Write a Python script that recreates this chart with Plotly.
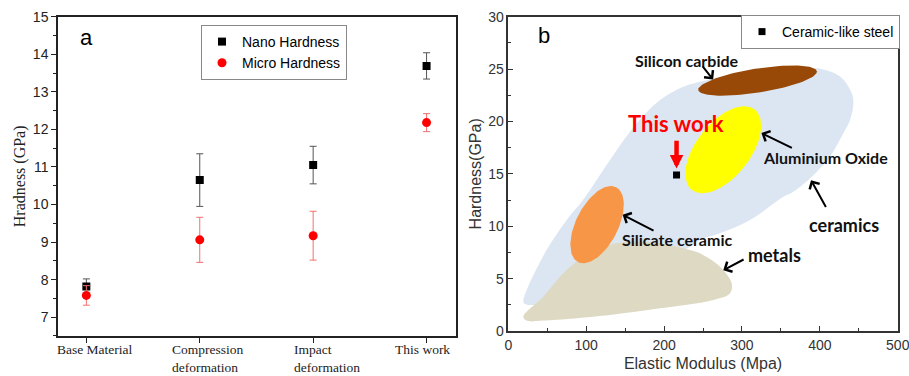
import numpy as np
import plotly.graph_objects as go

# ---------------- Panel a data ----------------
categories = ["Base Material", "Compression<br>deformation", "Impact<br>deformation", "This work"]
nano = [7.82, 10.65, 11.05, 13.69]
nano_err = [0.20, 0.70, 0.50, 0.35]
micro = [7.58, 9.06, 9.17, 12.18]
micro_err = [0.26, 0.60, 0.65, 0.24]

# ---------------- Panel b data ----------------
steel_E = [216]
steel_H = [14.9]

ceramics_E = [19.3, 44.5, 74.9, 95.9, 130.6, 164.8, 194.8, 224.7, 246.1, 301.8, 344.6, 396.0,
              425.9, 440.9, 443.1, 438.8, 430.2, 413.1, 400.3, 385.3, 366.0, 353.2, 310.4,
              271.8, 246.1, 233.3, 194.8, 130.6, 66.4, 36.4, 21.4]
ceramics_H = [2.80, 7.10, 10.59, 12.50, 16.32, 19.82, 22.05, 23.32, 23.80, 24.53, 24.91, 25.07,
              24.28, 22.69, 21.73, 20.14, 18.87, 16.64, 15.53, 14.41, 13.30, 12.82, 10.59,
              9.32, 8.69, 8.05, 6.46, 4.23, 2.80, 2.48, 2.58]

metals_E = [19.3, 44.9, 70.6, 96.3, 122.0, 156.3, 194.8, 233.3, 246.1, 271.8, 286.8, 284.7,
            263.3, 194.8, 130.6, 44.9, 23.5]
metals_H = [1.37, 3.28, 5.50, 7.10, 8.05, 8.53, 8.37, 7.73, 7.41, 6.14, 4.55, 3.60,
            2.96, 2.16, 1.53, 0.99, 0.99]

ellipse_names = ["Silicate ceramic", "Silicon carbide", "Aluminium Oxide"]
ellipse_cx = [114, 320, 276]
ellipse_cy = [10.15, 23.9, 17.3]
ellipse_a_px = [42, 60, 51]
ellipse_b_px = [21, 12, 27]
ellipse_angle = [63, 9, 52]
ellipse_colors = ["#f79646", "#984807", "#ffff00"]

labels_text = ["Silicon carbide", "Aluminium Oxide", "ceramics", "Silicate ceramic", "metals"]
labels_E = [230, 407.5, 431.5, 217, 341.6]
labels_H = [25.8, 16.6, 10.1, 8.75, 7.3]
labels_size = [16, 16, 18, 16, 18]
arrow_tail_E = [248, 366, 408.8, 188.4, 304]
arrow_tail_H = [25.4, 17.4, 11.7, 9.5, 6.9]
arrow_tip_E = [263, 325, 388.7, 146.8, 276]
arrow_tip_H = [24.0, 18.9, 14.4, 11.1, 5.8]

W, H = 909, 376
xa_dom = [0.0638, 0.5017]
ya_dom = [0.1064, 0.9556]
xb_dom = [0.5592, 0.9876]
yb_dom = [0.1197, 0.9556]
xb_range = [0, 500]
yb_range = [0, 30]
px_x = (xb_dom[1] - xb_dom[0]) * W / (xb_range[1] - xb_range[0])
px_y = (yb_dom[1] - yb_dom[0]) * H / (yb_range[1] - yb_range[0])

fig = go.Figure()

# Panel a
fig.add_trace(go.Scatter(
    x=categories, y=nano, mode="markers", name="Nano Hardness",
    marker=dict(symbol="square", size=8, color="black"),
    error_y=dict(type="data", array=nano_err, color="#555555", thickness=1, width=3.5),
    xaxis="x", yaxis="y", legend="legend"))
fig.add_trace(go.Scatter(
    x=categories, y=micro, mode="markers", name="Micro Hardness",
    marker=dict(symbol="circle", size=9, color="#ff0000"),
    error_y=dict(type="data", array=micro_err, color="#f07070", thickness=1, width=3.5),
    xaxis="x", yaxis="y", legend="legend"))

# Panel b regions
fig.add_trace(go.Scatter(
    x=ceramics_E + [ceramics_E[0]], y=ceramics_H + [ceramics_H[0]], mode="lines",
    fill="toself", fillcolor="#dce6f2", line=dict(width=0, shape="spline", color="#dce6f2"),
    showlegend=False, hoverinfo="skip", xaxis="x2", yaxis="y2"))
fig.add_trace(go.Scatter(
    x=metals_E + [metals_E[0]], y=metals_H + [metals_H[0]], mode="lines",
    fill="toself", fillcolor="#ddd9c3", line=dict(width=0, shape="spline", color="#ddd9c3"),
    showlegend=False, hoverinfo="skip", xaxis="x2", yaxis="y2"))

t = np.linspace(0, 2 * np.pi, 120)
for name, cx, cy, a, b, ang, col in zip(ellipse_names, ellipse_cx, ellipse_cy, ellipse_a_px,
                                         ellipse_b_px, ellipse_angle, ellipse_colors):
    th = np.radians(ang)
    u = a * np.cos(t)
    v = b * np.sin(t)
    dx = u * np.cos(th) - v * np.sin(th)
    dy = u * np.sin(th) + v * np.cos(th)
    fig.add_trace(go.Scatter(
        x=cx + dx / px_x, y=cy + dy / px_y, mode="lines", fill="toself", fillcolor=col,
        line=dict(width=0, color=col), name=name, showlegend=False, hoverinfo="skip",
        xaxis="x2", yaxis="y2"))

fig.add_trace(go.Scatter(
    x=steel_E, y=steel_H, mode="markers", name="Ceramic-like steel",
    marker=dict(symbol="square", size=7, color="black"),
    xaxis="x2", yaxis="y2", legend="legend2"))

sans = "Liberation Sans, Arial"
serif = "Liberation Serif, Times New Roman"

annotations = [
    dict(text="a", x=0, y=14.45, xref="x", yref="y", showarrow=False,
         font=dict(family=sans, size=22, color="black")),
    dict(text="b", x=46, y=28.25, xref="x2", yref="y2", showarrow=False,
         font=dict(family=sans, size=22, color="black")),
    dict(text="<b>This work</b>", x=215, y=19.8, xref="x2", yref="y2", showarrow=False,
         font=dict(family="Lato", size=22, color="#ff0000")),
    dict(text="", x=216, y=15.5, ax=216, ay=18.3, xref="x2", yref="y2", axref="x2", ayref="y2",
         showarrow=True, arrowhead=2, arrowsize=0.6, arrowwidth=4.5, arrowcolor="#ff0000"),
]
# category labels of panel a (left-aligned blocks, as in the original figure)
cat_shift = [-30, -29, -20, -33]
for cat, sh in zip(categories, cat_shift):
    annotations.append(dict(text=cat, x=cat, y=1 - 341 / H, xref="x", yref="paper",
                            xanchor="left", yanchor="top", align="left", xshift=sh,
                            showarrow=False, borderpad=0,
                            font=dict(family=serif, size=13.5, color="#222222")))
for txt, x, y, s in zip(labels_text, labels_E, labels_H, labels_size):
    annotations.append(dict(text="<b>" + txt + "</b>", x=x, y=y, xref="x2", yref="y2",
                            showarrow=False, font=dict(family="Lato", size=s, color="#111111")))
for x0, y0, x1, y1 in zip(arrow_tail_E, arrow_tail_H, arrow_tip_E, arrow_tip_H):
    annotations.append(dict(text="", x=x1, y=y1, ax=x0, ay=y0, xref="x2", yref="y2",
                            axref="x2", ayref="y2", showarrow=True, arrowhead=4,
                            arrowsize=1.1, arrowwidth=2, arrowcolor="black"))

fig.update_layout(
    width=W, height=H, margin=dict(l=0, r=0, t=0, b=0, autoexpand=False),
    paper_bgcolor="white", plot_bgcolor="white",
    annotations=annotations,
    xaxis=dict(domain=xa_dom, range=[-0.25, 3.26], type="category", automargin=False,
               showline=True, linecolor="#222222", linewidth=1.5, mirror=True,
               ticks="outside", ticklen=5, tickcolor="#222222", showgrid=False, zeroline=False,
               showticklabels=False, anchor="y"),
    yaxis=dict(domain=ya_dom, range=[6.5, 15], dtick=1, automargin=False,
               showline=True, linecolor="#222222", linewidth=1.5, mirror=True,
               ticks="outside", ticklen=5, tickcolor="#222222", showgrid=False, zeroline=False,
               minor=dict(dtick=0.5, ticks="outside", ticklen=3, tickcolor="#222222"),
               tickfont=dict(family=sans, size=14, color="#222222"), anchor="x",
               title=dict(text="Hradness (GPa)", font=dict(family=serif, size=16, color="#222222"),
                          standoff=3)),
    xaxis2=dict(domain=xb_dom, range=xb_range, dtick=100, automargin=False,
                showline=True, linecolor="#333333", linewidth=1.5, mirror=True,
                ticks="inside", ticklen=5, tickcolor="#333333", showgrid=False, zeroline=False,
                minor=dict(dtick=50, ticks="inside", ticklen=3, tickcolor="#333333"),
                tickfont=dict(family=sans, size=14, color="#333333"), anchor="y2",
                ticklabeloverflow="allow",
                title=dict(text="Elastic Modulus (Mpa)", font=dict(family=sans, size=16, color="#333333"),
                           standoff=6)),
    yaxis2=dict(domain=yb_dom, range=yb_range, dtick=5, automargin=False,
                showline=True, linecolor="#333333", linewidth=1.5, mirror=True,
                ticks="inside", ticklen=5, tickcolor="#333333", showgrid=False, zeroline=False,
                minor=dict(dtick=2.5, ticks="inside", ticklen=3, tickcolor="#333333"),
                tickfont=dict(family=sans, size=14, color="#333333"), anchor="x2",
                title=dict(text="Hardness(GPa)", font=dict(family=sans, size=16, color="#333333"),
                           standoff=3)),
    legend=dict(x=201 / W, y=1 - 25 / H, xanchor="left", yanchor="top",
                bordercolor="#888888", borderwidth=1, bgcolor="white",
                font=dict(family=sans, size=14, color="black"), tracegroupgap=0),
    legend2=dict(x=741 / W, y=1 - 15 / H, xanchor="left", yanchor="top",
                 bordercolor="#888888", borderwidth=1, bgcolor="white",
                 font=dict(family=sans, size=14, color="black")),
)

fig.write_html("out.html")
